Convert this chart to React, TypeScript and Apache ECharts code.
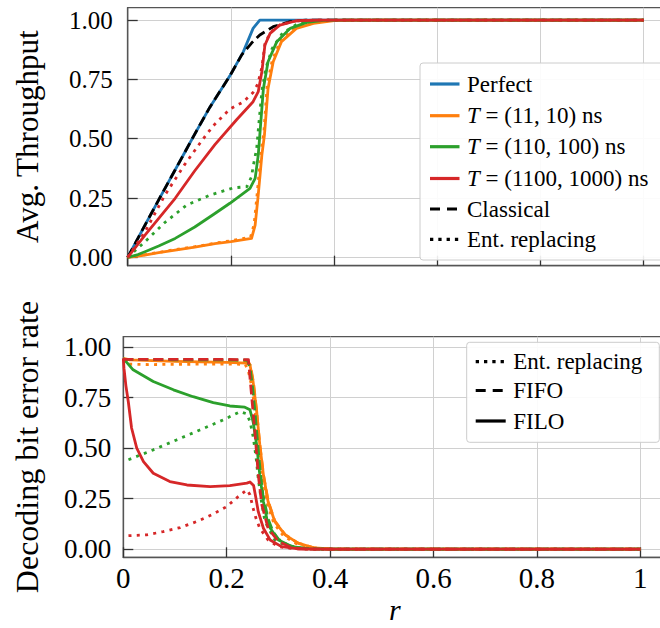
import React, { useEffect, useRef } from "react";
import * as echarts from "echarts";

// ---------- colours ----------
const BLUE = "#1f77b4";
const ORANGE = "#ff7f0e";
const GREEN = "#2ca02c";
const RED = "#d62728";
const BLACK = "#000000";

// ---------- axis ticks ----------
const xTicksBottom = ["0", "0.2", "0.4", "0.6", "0.8", "1"];

// ---------- top panel: Avg. Throughput vs r ----------
const perfect = [[0,0],[0.0335,0.136],[0.072,0.29],[0.111,0.444],[0.127,0.508],[0.159,0.632],[0.198,0.765],[0.224,0.866],[0.243,0.965],[0.256,1.0],[1,1]];
const classical = [[0,0],[0.0335,0.136],[0.072,0.29],[0.111,0.444],[0.127,0.508],[0.159,0.632],[0.198,0.765],[0.221,0.853],[0.24,0.903],[0.256,0.937],[0.282,0.972],[0.315,0.993],[0.345,1.0],[1,1]];
const tp11 = [[0,0],[0.03,0.009],[0.06,0.02],[0.092,0.031],[0.13,0.043],[0.169,0.058],[0.2,0.066],[0.24,0.08],[0.247,0.136],[0.253,0.263],[0.26,0.431],[0.265,0.515],[0.272,0.712],[0.282,0.824],[0.298,0.909],[0.327,0.965],[0.36,0.986],[0.4,0.998],[0.45,1],[1,1]];
const tp11Ent = [[0,0],[0.03,0.01],[0.06,0.021],[0.092,0.033],[0.13,0.045],[0.169,0.06],[0.2,0.07],[0.238,0.085],[0.245,0.14],[0.251,0.27],[0.258,0.44],[0.264,0.53],[0.27,0.72],[0.28,0.83],[0.296,0.912],[0.325,0.967],[0.36,0.988],[0.4,0.998],[0.45,1],[1,1]];
const tp110 = [[0,0],[0.02,0.012],[0.0335,0.024],[0.06,0.048],[0.092,0.08],[0.13,0.128],[0.169,0.185],[0.198,0.228],[0.237,0.291],[0.247,0.333],[0.253,0.431],[0.256,0.515],[0.263,0.712],[0.272,0.824],[0.289,0.909],[0.315,0.965],[0.347,0.99],[0.38,0.999],[0.42,1],[1,1]];
const tp110Ent = [[0,0],[0.0335,0.066],[0.072,0.147],[0.114,0.22],[0.159,0.262],[0.205,0.293],[0.231,0.298],[0.24,0.34],[0.243,0.382],[0.25,0.459],[0.254,0.56],[0.26,0.7],[0.268,0.8],[0.28,0.88],[0.3,0.945],[0.33,0.985],[0.36,0.997],[0.4,1],[1,1]];
const tp1100 = [[0,0],[0.0335,0.094],[0.092,0.249],[0.13,0.365],[0.169,0.475],[0.211,0.58],[0.243,0.656],[0.253,0.698],[0.26,0.782],[0.266,0.895],[0.276,0.944],[0.295,0.979],[0.327,0.997],[0.37,1],[1,1]];
const tp1100Ent = [[0,0],[0.0335,0.108],[0.072,0.262],[0.11,0.39],[0.143,0.49],[0.166,0.555],[0.198,0.625],[0.224,0.655],[0.243,0.695],[0.252,0.73],[0.26,0.8],[0.266,0.9],[0.276,0.946],[0.295,0.98],[0.327,0.997],[0.37,1],[1,1]];

// ---------- bottom panel: Decoding bit error rate vs r ----------
// FILO (solid)
const ber11 = [[0,0.945],[0.013,0.937],[0.1,0.93],[0.2,0.925],[0.239,0.921],[0.245,0.912],[0.251,0.83],[0.258,0.681],[0.264,0.516],[0.271,0.368],[0.28,0.236],[0.293,0.137],[0.313,0.071],[0.338,0.03],[0.37,0.006],[0.4,0.001],[0.45,0],[1,0]];
const ber110 = [[0,0.945],[0.019,0.888],[0.058,0.83],[0.097,0.789],[0.135,0.755],[0.174,0.726],[0.206,0.709],[0.235,0.703],[0.245,0.69],[0.251,0.632],[0.258,0.516],[0.264,0.368],[0.271,0.236],[0.28,0.12],[0.3,0.046],[0.326,0.013],[0.36,0.002],[0.4,0],[1,0]];
const ber1100 = [[0,0.945],[0.0013,0.896],[0.005,0.81],[0.0097,0.73],[0.016,0.6],[0.026,0.5],[0.039,0.434],[0.058,0.376],[0.09,0.335],[0.123,0.318],[0.168,0.31],[0.206,0.315],[0.239,0.327],[0.245,0.333],[0.252,0.315],[0.256,0.26],[0.261,0.186],[0.271,0.104],[0.284,0.046],[0.306,0.013],[0.343,0.001],[0.4,0],[1,0]];
// FIFO (dashed)
const fifo11 = [[0,0.94],[0.1,0.937],[0.2,0.935],[0.24,0.934],[0.246,0.91],[0.252,0.82],[0.258,0.68],[0.264,0.52],[0.271,0.37],[0.28,0.24],[0.293,0.14],[0.313,0.072],[0.338,0.03],[0.37,0.006],[0.4,0.001],[0.45,0],[1,0]];
const fifo110 = [[0,0.94],[0.1,0.938],[0.2,0.937],[0.24,0.936],[0.245,0.9],[0.25,0.8],[0.255,0.67],[0.26,0.52],[0.265,0.38],[0.27,0.27],[0.28,0.15],[0.29,0.085],[0.3,0.05],[0.32,0.018],[0.35,0.003],[0.4,0],[1,0]];
const fifo1100 = [[0,0.94],[0.1,0.94],[0.2,0.94],[0.242,0.938],[0.248,0.764],[0.255,0.566],[0.261,0.368],[0.268,0.219],[0.28,0.104],[0.3,0.038],[0.326,0.007],[0.36,0],[1,0]];
// Ent. replacing (dotted)
const ent11 = [[0,0.94],[0.007,0.916],[0.05,0.914],[0.1,0.915],[0.15,0.916],[0.2,0.917],[0.236,0.915],[0.242,0.88],[0.249,0.8],[0.256,0.66],[0.262,0.5],[0.269,0.36],[0.278,0.23],[0.291,0.13],[0.31,0.065],[0.335,0.027],[0.37,0.005],[0.4,0.001],[0.45,0],[1,0]];
const ent110 = [[0.01,0.443],[0.058,0.492],[0.103,0.541],[0.148,0.59],[0.193,0.64],[0.226,0.681],[0.239,0.67],[0.245,0.632],[0.251,0.56],[0.257,0.45],[0.261,0.35],[0.267,0.24],[0.274,0.137],[0.293,0.046],[0.318,0.013],[0.35,0.002],[0.4,0],[1,0]];
const ent1100 = [[0.01,0.067],[0.045,0.071],[0.077,0.087],[0.11,0.107],[0.142,0.137],[0.171,0.17],[0.2,0.211],[0.222,0.26],[0.239,0.294],[0.245,0.27],[0.251,0.203],[0.257,0.15],[0.264,0.104],[0.28,0.046],[0.3,0.013],[0.33,0.002],[0.37,0],[1,0]];

// ---------- legends ----------
const legendTop = [
  { label: "Perfect", color: BLUE, dash: "solid" },
  { label: "{i|T} = (11, 10) ns", color: ORANGE, dash: "solid" },
  { label: "{i|T} = (110, 100) ns", color: GREEN, dash: "solid" },
  { label: "{i|T} = (1100, 1000) ns", color: RED, dash: "solid" },
  { label: "Classical", color: BLACK, dash: "dashed" },
  { label: "Ent. replacing", color: BLACK, dash: "dotted" },
];
const legendBottom = [
  { label: "Ent. replacing", color: BLACK, dash: "dotted" },
  { label: "FIFO", color: BLACK, dash: "dashed" },
  { label: "FILO", color: BLACK, dash: "solid" },
];

const FONT = "Liberation Serif";
const DOT = [3, 5.3];
const DASH = [10, 5];
const LEG_DOT = [3.3, 5];
const LEG_DASH = [10, 7];

function line(name: string, data: number[][], color: string, dash: any, gi: number, z: number) {
  return {
    type: "line",
    name,
    data,
    xAxisIndex: gi,
    yAxisIndex: gi,
    symbol: "none",
    showSymbol: false,
    silent: true,
    z,
    lineStyle: { color, width: 2.8, type: dash, cap: "butt", join: "round" },
    itemStyle: { color },
  };
}

function xAxis(gi: number, showLabels: boolean) {
  return {
    type: "value",
    gridIndex: gi,
    min: 0,
    max: 1.05,
    interval: 0.2,
    axisLine: { show: true, onZero: false, lineStyle: { color: "#555", width: 1.3 } },
    axisTick: { show: true, inside: true, length: 10, lineStyle: { color: "#333", width: 1.3 } },
    splitLine: { show: true, showMinLine: false, showMaxLine: false, lineStyle: { color: "#d0d0d0", width: 1 } },
    axisLabel: {
      show: showLabels,
      margin: 6,
      showMaxLabel: false,
      color: "#000",
      fontFamily: FONT,
      fontSize: 29,
      formatter: (v: number) => {
        const idx = Math.round(v / 0.2);
        if (Math.abs(v - idx * 0.2) > 1e-6 || idx > 5) return "";
        return xTicksBottom[idx];
      },
    },
    name: showLabels ? "r" : "",
    nameLocation: "middle",
    nameGap: 37,
    nameMoveOverlap: false,
    nameTextStyle: { fontFamily: FONT, fontStyle: "italic", fontSize: 30, color: "#000" },
  };
}

function yAxis(gi: number, name: string, labelSize: number, labelMargin: number, nameSize: number, nameGap: number, min: number) {
  return {
    type: "value",
    gridIndex: gi,
    min,
    max: 1.052,
    minInterval: 0.25,
    maxInterval: 0.25,
    axisLine: { show: true, onZero: false, lineStyle: { color: "#555", width: 1.3 } },
    axisTick: { show: true, inside: true, length: 10, lineStyle: { color: "#333", width: 1.3 } },
    splitLine: { show: true, showMinLine: false, showMaxLine: false, lineStyle: { color: "#d0d0d0", width: 1 } },
    axisLabel: {
      margin: labelMargin,
      showMinLabel: false,
      showMaxLabel: false,
      color: "#000",
      fontFamily: FONT,
      fontSize: labelSize,
      formatter: (v: number) => (v < -0.001 || v > 1.001 ? "" : v.toFixed(2)),
    },
    name,
    nameLocation: "middle",
    nameGap,
    nameMoveOverlap: false,
    nameTextStyle: { fontFamily: FONT, fontSize: nameSize, color: "#000" },
  };
}

function legendGraphics(items: any[], box: any, x1: number, x2: number, tx: number, rowY: number[], fontSize: number) {
  const els: any[] = [
    {
      type: "rect",
      z: 100,
      shape: { x: box.x, y: box.y, width: box.w, height: box.h, r: 3 },
      style: { fill: "rgba(255,255,255,0.9)", stroke: "#cccccc", lineWidth: 1 },
    },
  ];
  items.forEach((it, i) => {
    const y = rowY[i];
    const lineDash = it.dash === "dotted" ? LEG_DOT : it.dash === "dashed" ? LEG_DASH : null;
    els.push({
      type: "line",
      z: 101,
      shape: { x1, y1: y, x2, y2: y },
      style: { stroke: it.color, lineWidth: 3.2, lineDash, lineCap: "butt" },
    });
    els.push({
      type: "text",
      z: 101,
      x: tx,
      y,
      style: {
        text: it.label,
        fill: "#000",
        fontFamily: FONT,
        fontSize,
        verticalAlign: "middle",
        align: "left",
        rich: { i: { fontStyle: "italic", fontFamily: FONT, fontSize, fill: "#000" } },
      },
    });
  });
  return els;
}

export default function App() {
  const ref = useRef<HTMLDivElement>(null);
  useEffect(() => {
    const chart = echarts.init(ref.current!, null, { renderer: "svg", width: 660, height: 628 });
    const option: any = {
      animation: false,
      backgroundColor: "#ffffff",
      textStyle: { fontFamily: FONT },
      grid: [
        { left: 127.7, top: 7.7, width: 541.8, height: 258, show: true, borderColor: "#555", borderWidth: 1.3, backgroundColor: "transparent", outerBoundsMode: "none" },
        { left: 123.3, top: 336.7, width: 542.9, height: 220.6, show: true, borderColor: "#555", borderWidth: 1.3, backgroundColor: "transparent", outerBoundsMode: "none" },
      ],
      xAxis: [xAxis(0, false), xAxis(1, true)],
      yAxis: [
        yAxis(0, "Avg. Throughput", 25, 15, 31, 85, -0.035),
        yAxis(1, "Decoding bit error rate", 27, 12, 32, 80, -0.04),
      ],
      series: [
        line("Perfect", perfect, BLUE, "solid", 0, 2),
        line("Classical", classical, BLACK, DASH, 0, 3),
        line("T=(11,10) ns", tp11, ORANGE, "solid", 0, 4),
        line("T=(11,10) ns ent", tp11Ent, ORANGE, DOT, 0, 5),
        line("T=(110,100) ns", tp110, GREEN, "solid", 0, 6),
        line("T=(110,100) ns ent", tp110Ent, GREEN, DOT, 0, 7),
        line("T=(1100,1000) ns", tp1100, RED, "solid", 0, 8),
        line("T=(1100,1000) ns ent", tp1100Ent, RED, DOT, 0, 9),

        line("FILO 11", ber11, ORANGE, "solid", 1, 2),
        line("FIFO 11", fifo11, ORANGE, DASH, 1, 3),
        line("Ent 11", ent11, ORANGE, DOT, 1, 4),
        line("FILO 110", ber110, GREEN, "solid", 1, 5),
        line("FIFO 110", fifo110, GREEN, DASH, 1, 6),
        line("Ent 110", ent110, GREEN, DOT, 1, 7),
        line("FILO 1100", ber1100, RED, "solid", 1, 8),
        line("FIFO 1100", fifo1100, RED, DASH, 1, 9),
        line("Ent 1100", ent1100, RED, DOT, 1, 10),
      ],
      graphic: [
        ...legendGraphics(legendTop, { x: 420, y: 63, w: 250, h: 197 }, 430, 459.5, 467, [84, 115.7, 146.7, 178.5, 209, 239.3], 23),
        ...legendGraphics(legendBottom, { x: 466.7, y: 342.3, w: 192.6, h: 100 }, 475.7, 505.7, 513.3, [361.7, 390.5, 421], 23),
      ],
    };
    chart.setOption(option);
    return () => chart.dispose();
  }, []);
  return (
    <div
      ref={ref}
      style={{ position: "absolute", left: 0, top: 0, width: 660, height: 628, background: "#fff", overflow: "hidden" }}
    />
  );
}
